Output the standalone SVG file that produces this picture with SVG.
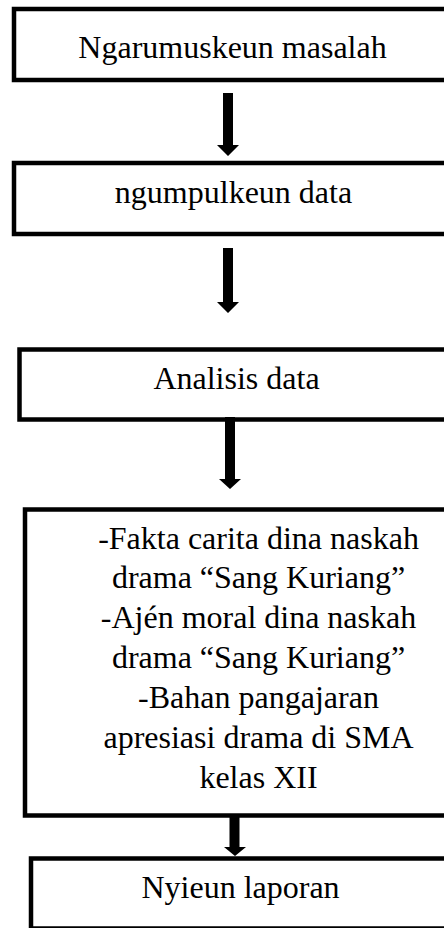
<svg xmlns="http://www.w3.org/2000/svg" width="444" height="928" viewBox="0 0 444 928">
<style>
.box{fill:#fff;stroke:#000;stroke-width:4.5}
.t{font-family:'Liberation Serif','Times New Roman',Times,serif;font-size:32px;fill:#000;text-anchor:middle}
.arr{fill:#000}
</style>
<rect x="0" y="0" width="444" height="928" fill="#fff"/>
<g id="n1"><rect class="box" x="14" y="9" width="450" height="71"/><text class="t" x="232.5" y="58">Ngarumuskeun masalah</text></g>
<g id="n2"><rect class="box" x="14" y="163" width="450" height="71"/><text class="t" x="233.5" y="203">ngumpulkeun data</text></g>
<g id="n3"><rect class="box" x="19.5" y="349.5" width="450" height="70"/><text class="t" x="236.5" y="389">Analisis data</text></g>
<g id="n4"><rect class="box" x="25" y="509.5" width="450" height="306"/>
<text class="t" x="258.5" y="549">-Fakta carita dina naskah</text>
<text class="t" x="258.5" y="588">drama “Sang Kuriang”</text>
<text class="t" x="258.5" y="628">-Ajén moral dina naskah</text>
<text class="t" x="258.5" y="668">drama “Sang Kuriang”</text>
<text class="t" x="258.5" y="708">-Bahan pangajaran</text>
<text class="t" x="258.5" y="748">apresiasi drama di SMA</text>
<text class="t" x="258.5" y="788">kelas XII</text>
</g>
<g id="n5"><rect class="box" x="31" y="858.5" width="450" height="70"/><text class="t" x="240.5" y="898">Nyieun laporan</text></g>
<g id="connectors">
<polygon class="arr" points="223,93 233,93 233,145 239,145 228,156 217,145 223,145"/>
<polygon class="arr" points="223,248 233,248 233,302 239,302 228,313 217,302 223,302"/>
<polygon class="arr" points="225,417 235,417 235,479 241,479 230,489 219,479 225,479"/>
<polygon class="arr" points="229.5,817 239.5,817 239.5,847 246,847 235,856 224,847 229.5,847"/>
</g>
</svg>
